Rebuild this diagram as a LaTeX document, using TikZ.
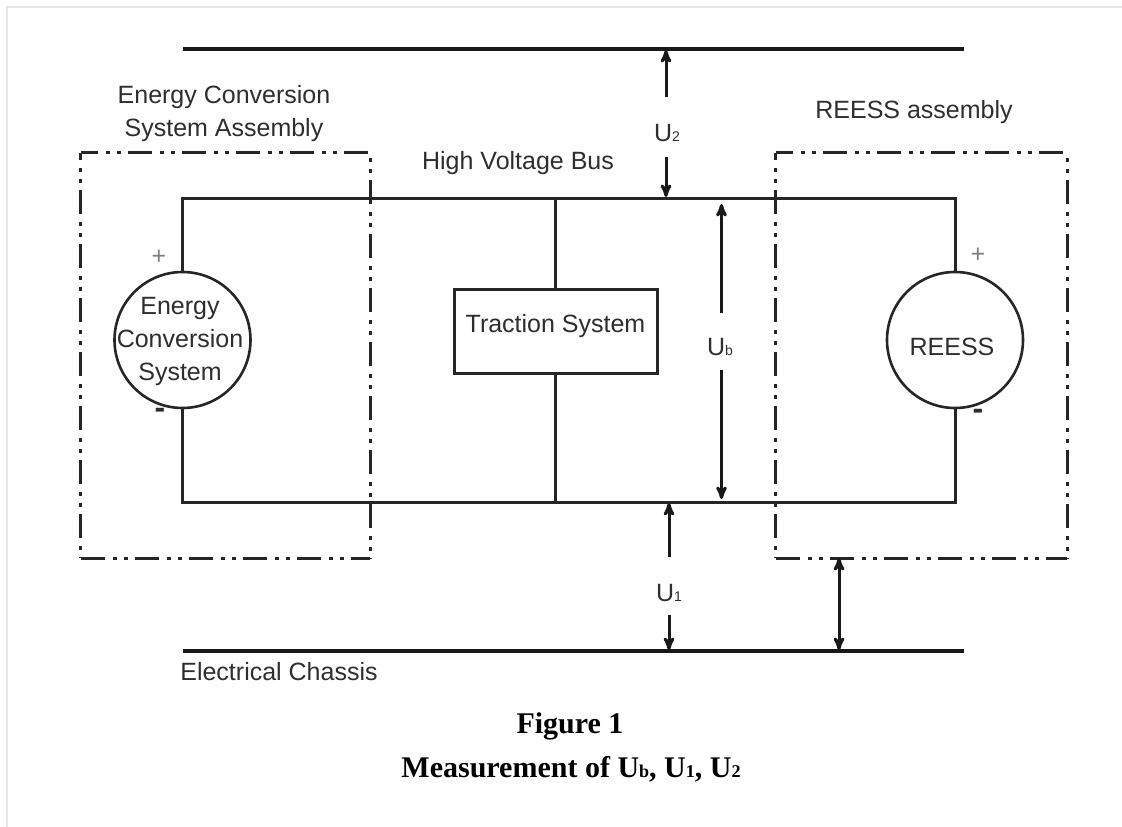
\documentclass[tikz,border=0pt]{standalone}
\usepackage{fontspec}
\setmainfont{Liberation Serif}
\newfontfamily\labelfont{Liberation Sans}
\usepackage{tikz}
\usetikzlibrary{arrows}
\definecolor{inkgray}{gray}{0.18}
\newcommand{\lowsub}[1]{{\fontsize{14}{14}\selectfont #1}}
\newcommand{\capsub}[1]{{\fontsize{18}{18}\selectfont #1}}
\tikzstyle{caption}=[font=\fontsize{30}{30}\selectfont\bfseries,inner sep=0pt,text=black]
\tikzstyle{tag}=[font=\labelfont\fontsize{25}{33}\selectfont,align=center,inner sep=0pt,text=inkgray]
\tikzstyle{polarity}=[font=\labelfont\fontsize{25}{25}\selectfont,inner sep=0pt,text=gray]
\tikzstyle{minus}=[font=\labelfont\bfseries\fontsize{32}{32}\selectfont,inner sep=0pt,text=inkgray]
\tikzstyle{source}=[circle,line width=2.6pt,draw=black!85,fill=white,minimum size=136pt,inner sep=0pt]
\tikzstyle{load}=[rectangle,line width=3pt,draw=black!85,fill=white,minimum width=203pt,inner sep=0pt]
\tikzstyle{assembly}=[rectangle,inner sep=0pt,minimum width=289pt,minimum height=405pt]
\tikzstyle{boxline}=[line width=3.2pt,draw=black!85,
                     dash pattern=on 24pt off 8pt on 4pt off 7pt on 4pt off 7pt]
\tikzstyle{wire}=[line width=3pt,draw=black!85]
\tikzstyle{rail}=[line width=4.5pt,draw=black!90]
\tikzstyle{volt}=[->,line width=3pt,draw=black!90,shorten >=-1pt]

\begin{document}
\begin{tikzpicture}[>=stealth',x=1pt,y=-1pt]
  \useasboundingbox (0,0) rectangle (1122,827);
  \draw[black!10,line width=1.5pt] (7,827) -- (7,7) -- (1122,7);

  % bus corners and rails
  \coordinate (BusTL) at (182.5,198);
  \coordinate (BusTR) at (955,198);
  \coordinate (BusBL) at (182.5,502);
  \coordinate (BusBR) at (955,502);
  \coordinate (BusTM) at (555.5,198);
  \coordinate (BusBM) at (555.5,502);
  \coordinate (TopL) at (183,49);
  \coordinate (TopR) at (964,49);
  \coordinate (ChassisL) at (183,651);
  \coordinate (ChassisR) at (964,651);

  \node[source] (ECS) at (182.5,340) {};
  \node[source] (REESS) at (955,340) {};
  \node[load,text height=43pt,text depth=41pt] (Traction) at (555.5,331)
       {\labelfont\fontsize{25}{25}\selectfont\color{inkgray}Traction System};

  \draw[wire] (ECS) -- (BusTL) -- (BusTR) -- (REESS);
  \draw[wire] (ECS) -- (BusBL) -- (BusBR) -- (REESS);
  \draw[wire] (BusTM) -- (Traction);
  \draw[wire] (Traction) -- (BusBM);
  \draw[rail] (TopL) -- (TopR);
  \draw[rail] (ChassisL) -- (ChassisR);

  \node[assembly] (ECSbox) at (225.5,355.5) {};
  \node[assembly,minimum width=291pt] (REESSbox) at (921.5,355.5) {};
  \foreach \boxname in {ECSbox,REESSbox} {
    \draw[boxline,dash phase=7pt] (\boxname.north west) -- (\boxname.north east);
    \draw[boxline] (\boxname.south west) -- (\boxname.south east);
    \draw[boxline,dash phase=17pt] (\boxname.north west) -- (\boxname.south west);
    \draw[boxline,dash phase=27pt] (\boxname.north east) -- (\boxname.south east);
  }

  \node[tag] (ECStext) at (180,341) {Energy\\Conversion\\System};
  \node[tag] (REESStext) at (952,347) {REESS};
  \node[tag] (ECSname) at (224,114) {Energy Conversion\\System Assembly};
  \node[tag] (REESSname) at (914,112) {REESS assembly};
  \node[tag] (BusName) at (518,163) {High Voltage Bus};
  \node[tag] (ChassisName) at (279,672) {Electrical Chassis};

  \node[polarity] (PlusL) at (159,257) {+};
  \node[polarity] (PlusR) at (978,255) {+};
  \node[minus] (MinusL) at (160,413) {-};
  \node[minus] (MinusR) at (978,414) {-};

  % voltage arrows, each one split round its label
  \node[tag] (U2) at (667,133) {U\lowsub{2}};
  \node[tag] (Ub) at (720,347) {U\lowsub{b}};
  \node[tag] (U1) at (669,593) {U\lowsub{1}};
  \coordinate (U2up) at (666,97);
  \coordinate (U2down) at (666,157);
  \coordinate (U2top) at (666,51);
  \coordinate (U2bus) at (666,196);
  \coordinate (Ubup) at (721.5,313);
  \coordinate (Ubdown) at (721.5,370);
  \coordinate (Ubtop) at (721.5,205);
  \coordinate (Ubbot) at (721.5,498);
  \coordinate (U1up) at (669,557);
  \coordinate (U1down) at (669,615);
  \coordinate (U1bus) at (669,504);
  \coordinate (U1ch) at (669,649);
  \coordinate (GapTop) at (839,559);
  \coordinate (GapBot) at (839,649);
  \draw[volt] (U2up) -- (U2top);
  \draw[volt] (U2down) -- (U2bus);
  \draw[volt] (Ubup) -- (Ubtop);
  \draw[volt] (Ubdown) -- (Ubbot);
  \draw[volt] (U1up) -- (U1bus);
  \draw[volt] (U1down) -- (U1ch);
  \draw[volt,<->,shorten <=-1pt] (GapTop) -- (GapBot);

  \node[caption] (FigNo) at (570,726) {Figure 1};
  \node[caption] (FigTitle) at (571,769) {Measurement of U\capsub{b}, U\capsub{1}, U\capsub{2}};
\end{tikzpicture}
\end{document}
